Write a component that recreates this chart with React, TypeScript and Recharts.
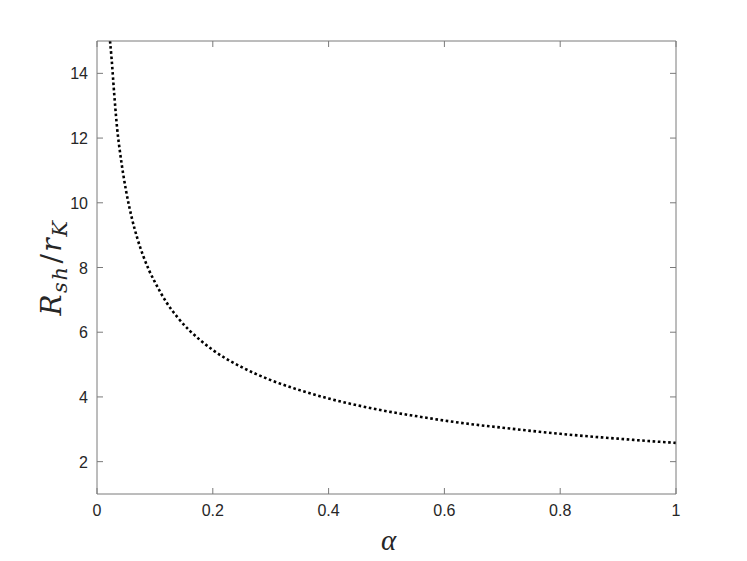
import React from "react";
import { LineChart, Line, XAxis, YAxis } from "recharts";

const alphaValues = [
  0.0225, 0.025, 0.03, 0.035, 0.04, 0.05, 0.06, 0.07, 0.08, 0.09, 0.1, 0.12,
  0.14, 0.16, 0.18, 0.2, 0.25, 0.3, 0.35, 0.4, 0.45, 0.5, 0.55, 0.6, 0.65, 0.7,
  0.75, 0.8, 0.85, 0.9, 0.95, 1.0,
];
const ratioValues = [
  15.0, 14.5, 13.3, 12.26, 11.53, 10.39, 9.54, 8.88, 8.35, 7.91, 7.55, 6.92,
  6.44, 6.05, 5.73, 5.45, 4.92, 4.52, 4.21, 3.95, 3.74, 3.56, 3.41, 3.27, 3.15,
  3.05, 2.95, 2.86, 2.78, 2.71, 2.64, 2.58,
];
const xTicks = [0, 0.2, 0.4, 0.6, 0.8, 1];
const yTicks = [2, 4, 6, 8, 10, 12, 14];

const data = alphaValues.map((a, i) => ({ alpha: a, ratio: ratioValues[i] }));

const AXIS = "#7a7a7a";
const TEXT = "#262626";
const FONT = "Liberation Sans, Arial, sans-serif";
const TICK_LEN = 6;
const X_GAP = 22;
const Y_GAP = 9;

const BottomTick = (props: any) => {
  const { x, y, payload, showLabel } = props;
  const axisY = y - X_GAP;
  return (
    <g>
      <line x1={x} x2={x} y1={axisY} y2={axisY - TICK_LEN} stroke={AXIS} strokeWidth={1} />
      {showLabel && (
        <text x={x} y={y} textAnchor="middle" fill={TEXT} fontSize={16} fontFamily={FONT}>
          {String(payload.value)}
        </text>
      )}
    </g>
  );
};

const TopTick = (props: any) => {
  const { x, y } = props;
  return <line x1={x} x2={x} y1={y} y2={y + TICK_LEN} stroke={AXIS} strokeWidth={1} />;
};

const LeftTick = (props: any) => {
  const { x, y, payload } = props;
  const axisX = x + Y_GAP;
  return (
    <g>
      <line x1={axisX} x2={axisX + TICK_LEN} y1={y} y2={y} stroke={AXIS} strokeWidth={1} />
      <text x={x} y={y + 6} textAnchor="end" fill={TEXT} fontSize={16} fontFamily={FONT}>
        {String(payload.value)}
      </text>
    </g>
  );
};

const RightTick = (props: any) => {
  const { x, y } = props;
  return <line x1={x} x2={x - TICK_LEN} y1={y} y2={y} stroke={AXIS} strokeWidth={1} />;
};

const YLabel = (props: any) => {
  const vb = props.viewBox || {};
  const x = vb.x + 24;
  const y = vb.y + vb.height / 2;
  return (
    <text
      x={x}
      y={y}
      transform={`rotate(-90 ${x} ${y})`}
      textAnchor="middle"
      fill={TEXT}
      fontFamily="DejaVu Serif, serif"
      fontStyle="italic"
      fontSize={28}
      letterSpacing={1.5}
    >
      <tspan>R</tspan>
      <tspan fontSize={21} dy={6}>sh</tspan>
      <tspan dy={-6} dx={2} fontStyle="normal">/</tspan>
      <tspan dx={1}>r</tspan>
      <tspan fontSize={21} dy={6}>K</tspan>
    </text>
  );
};

const XLabel = (props: any) => {
  const vb = props.viewBox || {};
  const x = vb.x + vb.width / 2 + 2;
  const y = vb.y + 56;
  return (
    <text
      x={x}
      y={y}
      textAnchor="middle"
      fill={TEXT}
      fontFamily="Liberation Serif, serif"
      fontStyle="italic"
      fontSize={29}
    >
      α
    </text>
  );
};

export default function App() {
  return (
    <div style={{ position: "absolute", left: 0, top: 0, background: "#fff" }}>
      <LineChart
        width={747}
        height={561}
        data={data}
        margin={{ top: 40, right: 70, bottom: 17, left: 37 }}
      >
        <XAxis
          xAxisId="bottom"
          dataKey="alpha"
          type="number"
          domain={[0, 1]}
          ticks={xTicks}
          height={50}
          stroke={AXIS}
          tickLine={false}
          tickSize={0}
          tickMargin={X_GAP}
          tick={<BottomTick showLabel />}
          allowDataOverflow
          label={<XLabel />}
        />
        <XAxis
          xAxisId="top"
          orientation="top"
          dataKey="alpha"
          type="number"
          domain={[0, 1]}
          ticks={xTicks}
          height={1}
          stroke={AXIS}
          tickLine={false}
          tickSize={0}
          tickMargin={0}
          tick={<TopTick />}
          allowDataOverflow
        />
        <YAxis
          yAxisId="left"
          type="number"
          domain={[1, 15]}
          ticks={yTicks}
          width={60}
          stroke={AXIS}
          tickLine={false}
          tickSize={0}
          tickMargin={Y_GAP}
          tick={<LeftTick />}
          allowDataOverflow
          label={<YLabel />}
        />
        <YAxis
          yAxisId="right"
          orientation="right"
          type="number"
          domain={[1, 15]}
          ticks={yTicks}
          width={1}
          stroke={AXIS}
          tickLine={false}
          tickSize={0}
          tickMargin={0}
          tick={<RightTick />}
          allowDataOverflow
        />
        <Line
          xAxisId="bottom"
          yAxisId="left"
          type="monotone"
          dataKey="ratio"
          stroke="#000"
          strokeWidth={2.6}
          strokeDasharray="2.6 2.6"
          dot={false}
          isAnimationActive={false}
        />
      </LineChart>
    </div>
  );
}
